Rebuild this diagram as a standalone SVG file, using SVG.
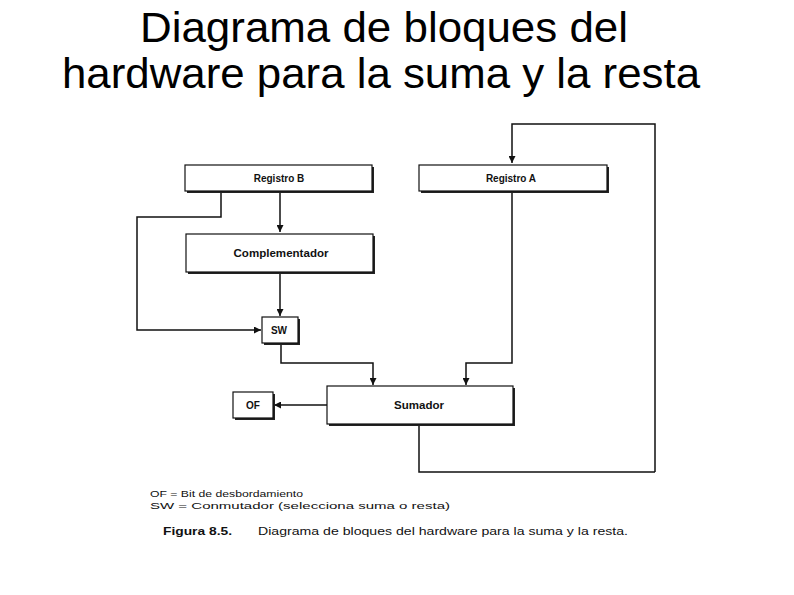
<svg xmlns="http://www.w3.org/2000/svg" width="794" height="595" viewBox="0 0 794 595">
<defs>
<marker id="ah" viewBox="0 0 10 10" refX="10" refY="5" markerWidth="7" markerHeight="7" markerUnits="userSpaceOnUse" orient="auto">
<path d="M0,0 L10,5 L0,10 z" fill="#111"/>
</marker>
</defs>
<style>
.title{font-family:"Liberation Sans",Arial,sans-serif;font-size:42px;fill:#000}
.box{fill:#fff;stroke:#111;stroke-width:1.2}
.shadow{fill:#222}
.lbl{font-family:"Liberation Sans",Arial,sans-serif;font-weight:bold;font-size:10px;fill:#111;text-anchor:middle}
.conn{fill:none;stroke:#111;stroke-width:1.5}
.leg{font-family:"Liberation Sans",Arial,sans-serif;font-size:9.5px;fill:#111}
.cap{font-family:"Liberation Sans",Arial,sans-serif;font-size:10.5px;fill:#111}
</style>
<rect width="794" height="595" fill="#fff"/>
<g id="title">
<text class="title" x="140" y="42" textLength="488" lengthAdjust="spacingAndGlyphs">Diagrama de bloques del</text>
<text class="title" x="62" y="88" textLength="638" lengthAdjust="spacingAndGlyphs">hardware para la suma y la resta</text>
</g>
<g id="connectors">
<path class="conn" d="M655,472 L655,124 L512,124 L512,163" marker-end="url(#ah)"/>
<path class="conn" d="M280,191 L280,232" marker-end="url(#ah)"/>
<path class="conn" d="M221,191 L221,217 L137,217 L137,330 L261,330" marker-end="url(#ah)"/>
<path class="conn" d="M280,272 L280,316" marker-end="url(#ah)"/>
<path class="conn" d="M281,344 L281,363 L373,363 L373,385" marker-end="url(#ah)"/>
<path class="conn" d="M512,191 L512,363 L466,363 L466,385" marker-end="url(#ah)"/>
<path class="conn" d="M327,405 L274,405" marker-end="url(#ah)"/>
<path class="conn" d="M419,425 L419,472 L655,472"/>
</g>
<g id="registro-b">
<rect class="shadow" x="187" y="167" width="187" height="26"/>
<rect class="box" x="185" y="165" width="187" height="26"/>
<text class="lbl" x="279" y="182">Registro B</text>
</g>
<g id="registro-a">
<rect class="shadow" x="421" y="167" width="188" height="26"/>
<rect class="box" x="419" y="165" width="188" height="26"/>
<text class="lbl" x="511" y="182">Registro A</text>
</g>
<g id="complementador">
<rect class="shadow" x="188" y="236" width="187" height="38"/>
<rect class="box" x="186" y="234" width="187" height="38"/>
<text class="lbl" x="281" y="257" textLength="95" lengthAdjust="spacingAndGlyphs">Complementador</text>
</g>
<g id="sw">
<rect class="shadow" x="264" y="319" width="36" height="26"/>
<rect class="box" x="262" y="317" width="36" height="26"/>
<text class="lbl" x="279" y="334">SW</text>
</g>
<g id="sumador">
<rect class="shadow" x="329" y="388" width="186" height="38"/>
<rect class="box" x="327" y="386" width="186" height="38"/>
<text class="lbl" x="419" y="409" textLength="50" lengthAdjust="spacingAndGlyphs">Sumador</text>
</g>
<g id="of">
<rect class="shadow" x="235" y="394" width="40" height="26"/>
<rect class="box" x="233" y="392" width="40" height="26"/>
<text class="lbl" x="253" y="409">OF</text>
</g>
<g id="legend">
<text class="leg" x="150" y="497" textLength="153" lengthAdjust="spacingAndGlyphs">OF = Bit de desbordamiento</text>
<text class="leg" x="150" y="509" textLength="300" lengthAdjust="spacingAndGlyphs">SW = Conmutador (selecciona suma o resta)</text>
<text class="cap" x="163" y="535" font-weight="bold" textLength="69" lengthAdjust="spacingAndGlyphs">Figura 8.5.</text>
<text class="cap" x="258" y="535" textLength="370" lengthAdjust="spacingAndGlyphs">Diagrama de bloques del hardware para la suma y la resta.</text>
</g>
</svg>
